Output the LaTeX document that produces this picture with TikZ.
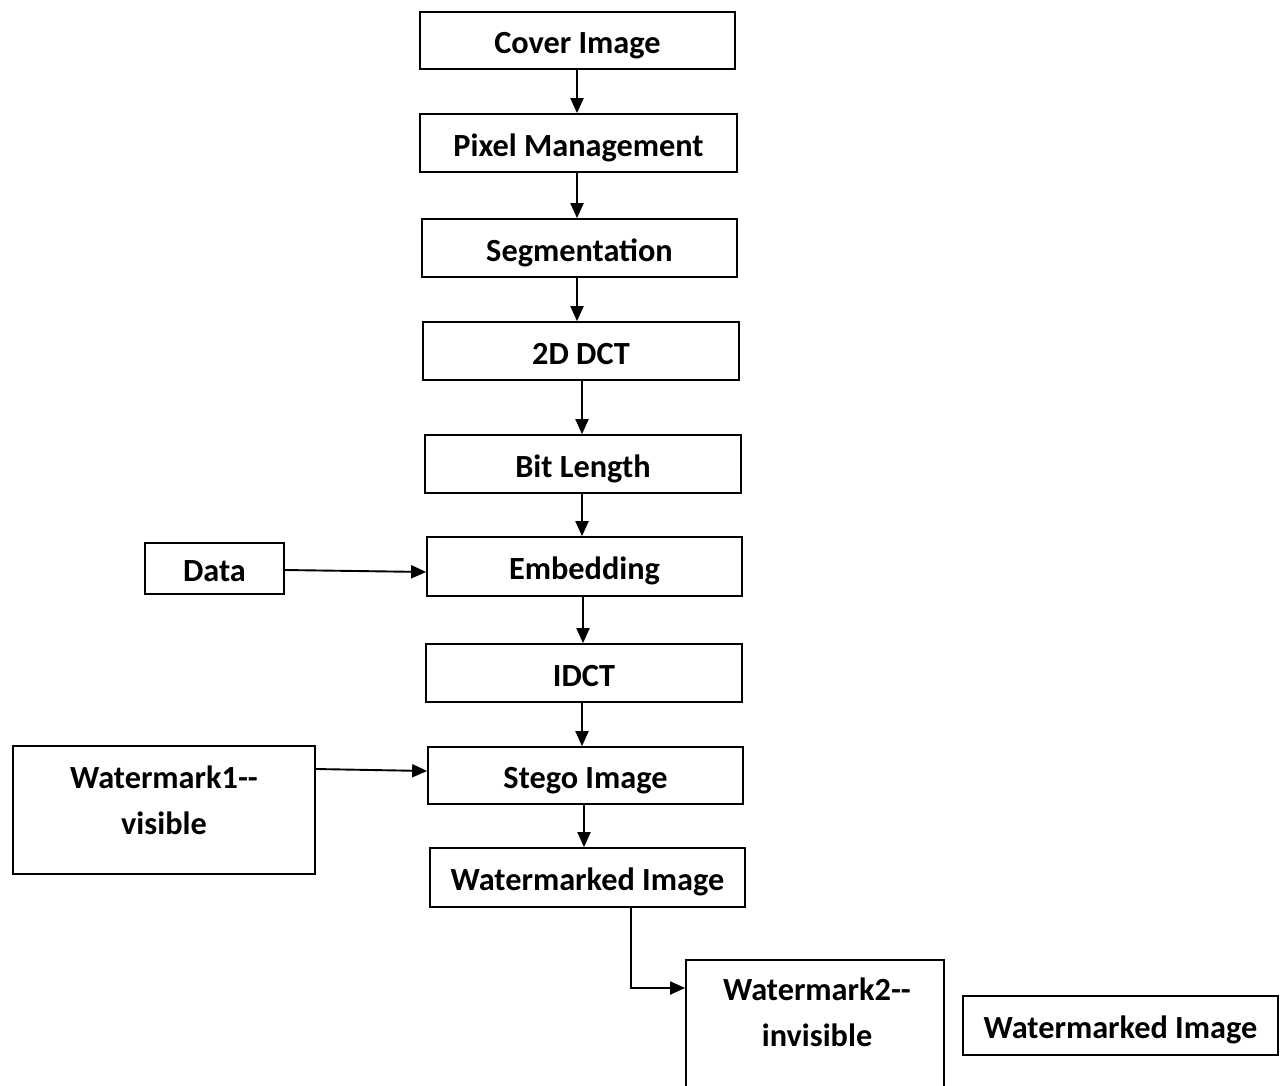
\documentclass[tikz,border=0pt]{standalone}
\usepackage{fontspec}
\setmainfont{Carlito}
\usetikzlibrary{arrows.meta}
\begin{document}
\begin{tikzpicture}[x=1pt,y=-1pt,
  box/.style={draw, line width=1.7pt, inner sep=0pt, text height=26pt, text depth=0pt,
    font=\fontsize{32.3}{46}\selectfont\bfseries},
  txt/.style={inner sep=0pt, align=center, font=\fontsize{32.3}{46}\selectfont\bfseries},
  arr/.style={line width=1.9pt, -{Triangle[length=15pt,width=13pt]}}]
\clip (0,0) rectangle (1285,1085);
\useasboundingbox (0,0) rectangle (1285,1085);
% main column
\node[box, minimum width=315pt, minimum height=57pt] (cover) at (577.5,40.5) {Cover Image};
\node[box, minimum width=317pt, minimum height=58pt] (pixel) at (578.5,143) {Pixel Management};
\node[box, minimum width=315pt, minimum height=58pt] (seg) at (579.5,248) {Segmentation};
\node[box, minimum width=316pt, minimum height=58pt] (dct) at (581,351) {2D DCT};
\node[box, minimum width=316pt, minimum height=58pt] (bit) at (583,464) {Bit Length};
\node[box, minimum width=315pt, minimum height=59pt] (emb) at (584.5,566.5) {Embedding};
\node[box, minimum width=316pt, minimum height=58pt] (idct) at (584,673) {IDCT};
\node[box, minimum width=315pt, minimum height=57pt] (stego) at (585.5,775.5) {Stego Image};
\node[box, minimum width=315pt, minimum height=59pt] (wm) at (587.5,877.5) {Watermarked Image};
% side boxes
\node[box, minimum width=139pt, minimum height=51pt] (data) at (214.5,568.5) {Data};
\node[box, minimum width=302pt, minimum height=128pt] (wmone) at (164,810) {};
\node[txt] (wmonet) at (164,800) {Watermark1-{}-\\visible};
\node[box, minimum width=258pt, minimum height=150pt] (wmtwo) at (815,1035) {};
\node[txt] (wmtwot) at (817,1012) {Watermark2-{}-\\invisible};
\node[box, minimum width=315pt, minimum height=59pt] (wmthree) at (1120.5,1025.5) {Watermarked Image};
% vertical arrows
\draw[arr] (cover.south -| 577,0) -- (pixel.north -| 577,0);
\draw[arr] (pixel.south -| 577,0) -- (seg.north -| 577,0);
\draw[arr] (seg.south -| 577,0) -- (dct.north -| 577,0);
\draw[arr] (dct.south -| 582,0) -- (bit.north -| 582,0);
\draw[arr] (bit.south -| 582,0) -- (emb.north -| 582,0);
\draw[arr] (emb.south -| 583,0) -- (idct.north -| 583,0);
\draw[arr] (idct.south -| 582,0) -- (stego.north -| 582,0);
\draw[arr] (stego.south -| 584,0) -- (wm.north -| 584,0);
% side arrows
\draw[arr] (data.east |- 0,570) -- (emb.west |- 0,572);
\draw[arr] (wmone.east |- 0,769) -- (stego.west |- 0,771);
\draw[arr] (wm.south -| 631,0) -- (631,988) -- (wmtwo.west |- 0,988);
\end{tikzpicture}
\end{document}
